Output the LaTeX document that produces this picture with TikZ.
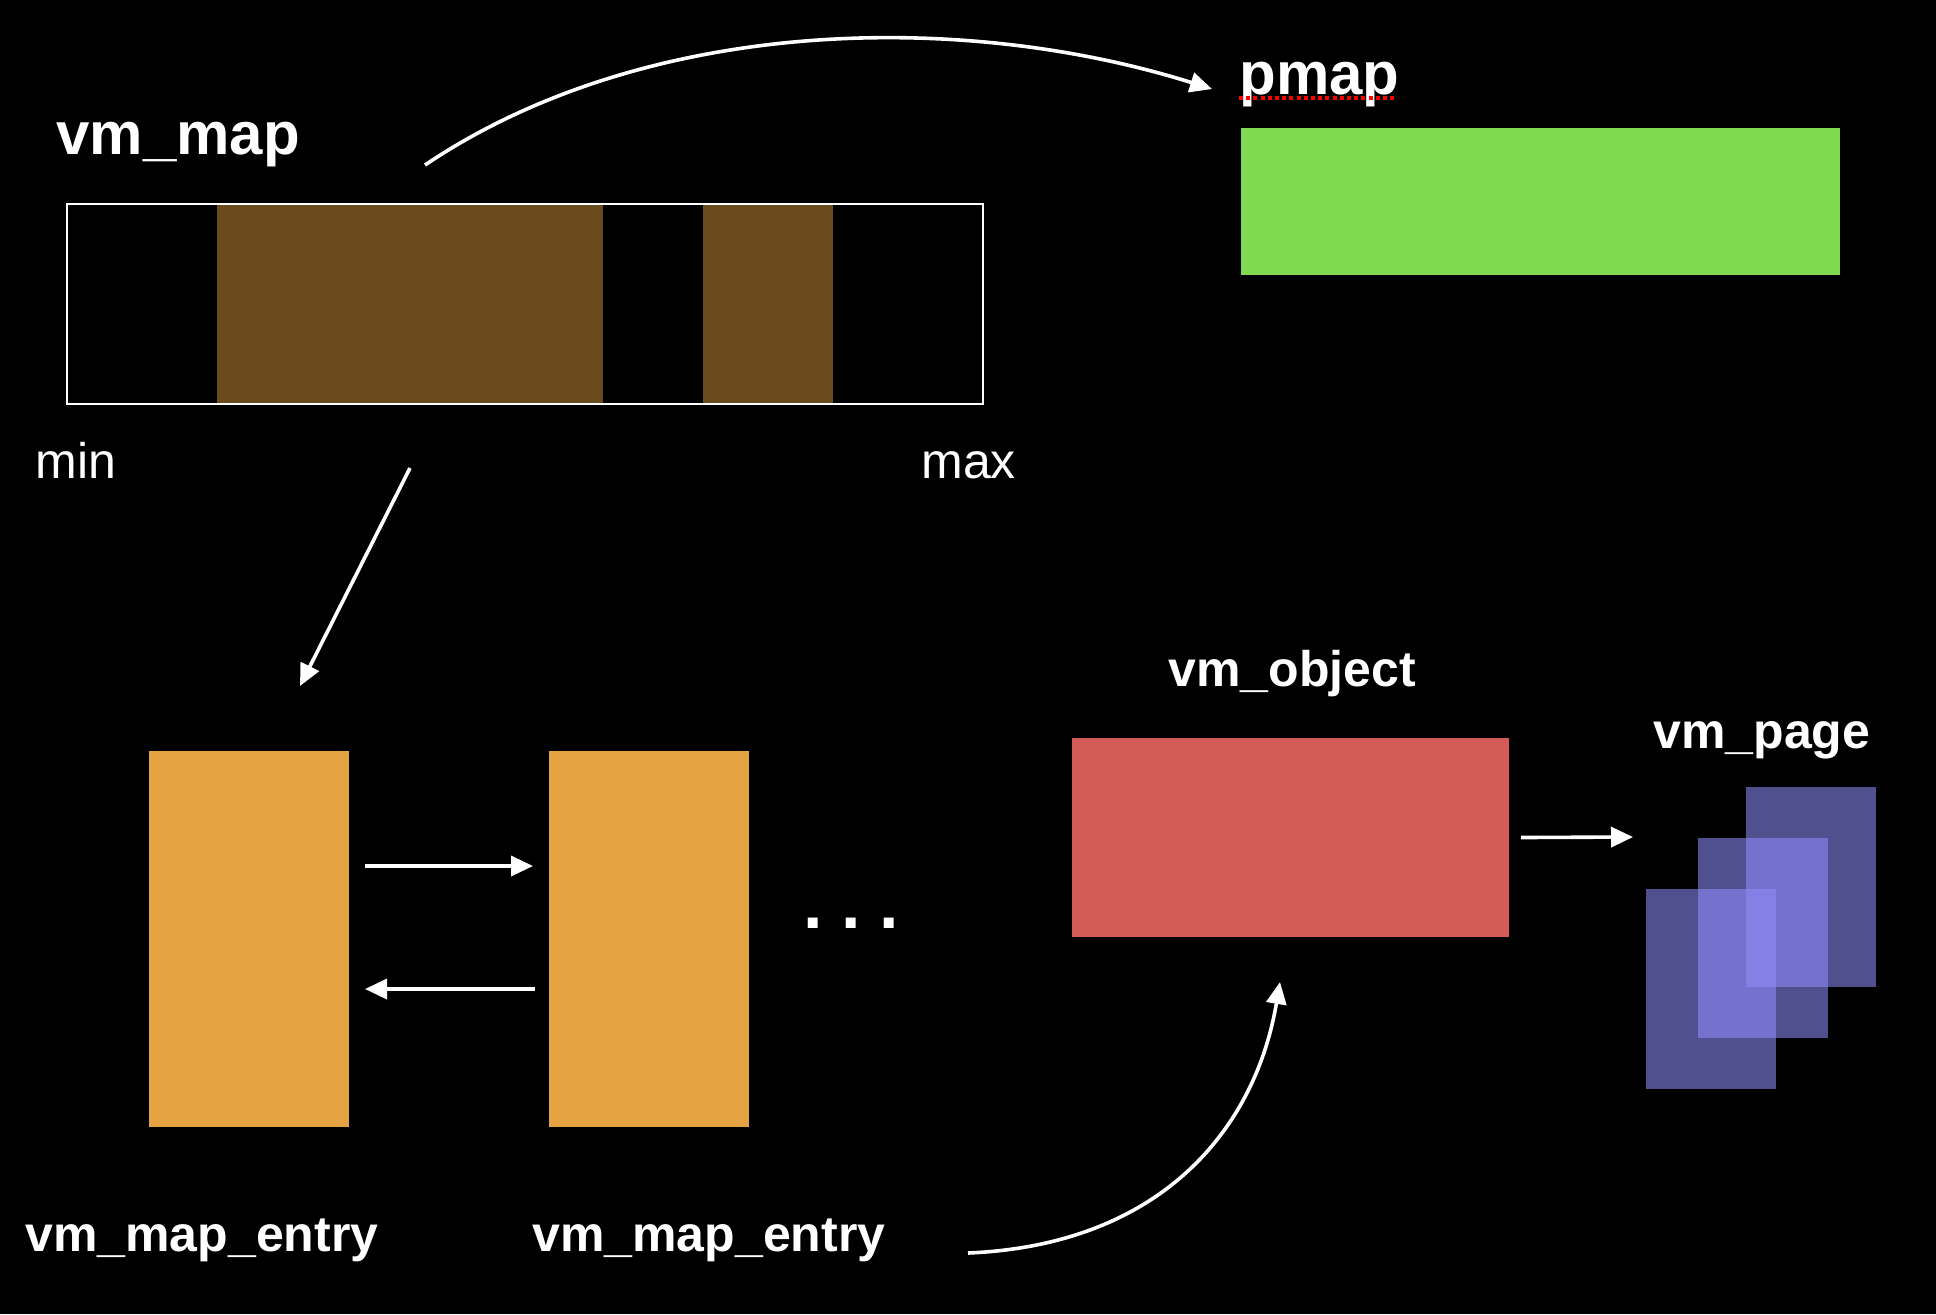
\documentclass[tikz,border=0pt]{standalone}
\usepackage{fontspec}
\setmainfont{Liberation Sans}
\usetikzlibrary{arrows.meta}
\definecolor{mapbrown}{HTML}{694B1E}
\definecolor{pmapgreen}{HTML}{7FDA52}
\definecolor{entryorange}{HTML}{E5A342}
\definecolor{objred}{HTML}{D35B58}
\definecolor{pagepurple}{HTML}{8F8CFA}
\tikzset{
  biglbl/.style={text=white, font=\bfseries\fontsize{30}{36}\selectfont, inner sep=0pt, anchor=base west},
  midlbl/.style={text=white, font=\bfseries\fontsize{25}{30}\selectfont, inner sep=0pt, anchor=base west},
  thinlbl/.style={text=white, font=\fontsize{25}{30}\selectfont, inner sep=0pt, anchor=base west},
  conn/.style={draw=white, line width=1.8pt, -{Triangle[length=11pt,width=10pt]}},
  block/.style={draw=none, inner sep=0pt, outer sep=0pt, anchor=north west},
  pagebox/.style={block, fill=pagepurple, fill opacity=0.573, minimum width=65pt, minimum height=100pt},
}
\begin{document}
\begin{tikzpicture}[x=0.5pt,y=-0.5pt]
\fill[black] (0,0) rectangle (1936,1314);
\useasboundingbox (0,0) rectangle (1936,1314);

% vm_map
\node[biglbl] (vmmaplbl) at (56,154) {vm\_map};
\node[block, fill=mapbrown, minimum width=193pt, minimum height=100pt] (seg1) at (217,204) {};
\node[block, fill=mapbrown, minimum width=65pt, minimum height=100pt] (seg2) at (703,204) {};
\node[block, draw=white, line width=1pt, minimum width=458pt, minimum height=100pt] (vmmap) at (67,204) {};
\node[thinlbl] (minlbl) at (35,478) {min};
\node[thinlbl] (maxlbl) at (921,478) {max};

% pmap
\node[biglbl] (pmaplbl) at (1239,94) {pmap};
\draw[red, line width=1.6pt, dash pattern=on 2pt off 1.6pt] (pmaplbl.base west) ++(0,4) -- ++(157,0);
\node[block, fill=pmapgreen, minimum width=299.5pt, minimum height=73.5pt] (pmap) at (1241,128) {};

% map entries
\node[block, fill=entryorange, minimum width=100pt, minimum height=188pt] (e1) at (149,751) {};
\node[block, fill=entryorange, minimum width=100pt, minimum height=188pt] (e2) at (549,751) {};
\node[midlbl] (e1lbl) at (25,1251) {vm\_map\_entry};
\node[midlbl] (e2lbl) at (532,1251) {vm\_map\_entry};
\node[text=white, font=\bfseries\fontsize{35}{40}\selectfont, inner sep=0pt, anchor=base] (dots) at (851,928) {.\hspace{9.3pt}.\hspace{9.3pt}.};

% vm_object
\node[midlbl] (objlbl) at (1168,686) {vm\_object};
\node[block, fill=objred, minimum width=218.5pt, minimum height=99.5pt] (obj) at (1072,738) {};

% vm_page
\node[midlbl] (pagelbl) at (1653,748) {vm\_page};
\node[pagebox] (pageA) at (1746,787) {};
\node[pagebox] (pageB) at (1698,838) {};
\node[pagebox] (pageC) at (1646,889) {};

% connectors
\coordinate (topstart) at (425,165);
\coordinate (toptip) at (1212,89);
\draw[conn] (topstart) .. controls (645,17) and (960,10) .. (toptip);

\coordinate (diagstart) at (410,468);
\coordinate (diagtip) at (300,686);
\draw[conn] (diagstart) -- (diagtip);

\coordinate (fwdstart) at (365,866);
\coordinate (fwdtip) at (533,866);
\draw[conn] (fwdstart) -- (fwdtip);
\coordinate (backstart) at (535,989);
\coordinate (backtip) at (365,989);
\draw[conn] (backstart) -- (backtip);

\coordinate (pagetip) at (1633,837);
\draw[conn] ([xshift=6pt]obj.east) -- (pagetip);

\coordinate (curvestart) at (968,1253);
\coordinate (curvetip) at (1280,982);
\draw[conn] (curvestart) .. controls (1160,1245) and (1255,1130) .. (curvetip);
\end{tikzpicture}
\end{document}
